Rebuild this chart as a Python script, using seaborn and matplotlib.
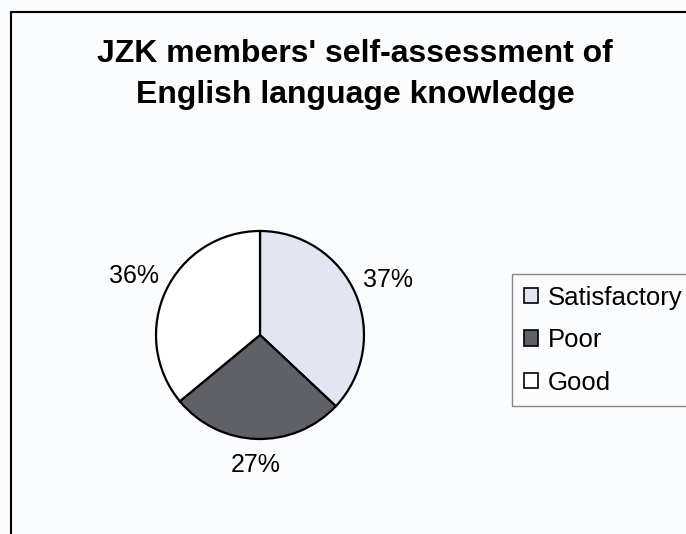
import matplotlib
matplotlib.use("Agg")
import numpy as np
import matplotlib.pyplot as plt
import seaborn as sns
from matplotlib.lines import Line2D
from matplotlib.patches import Patch

sns.set_theme(style="white")
plt.rcParams['font.family'] = ['Liberation Sans', 'DejaVu Sans']
plt.rcParams['text.color'] = 'black'

categories = ["Satisfactory", "Poor", "Good"]
shares = [37, 27, 36]
colors = ["#E3E6F1", "#5F6166", "#FFFFFF"]

W, H = 686, 534
fig = plt.figure(figsize=(W / 100, H / 100), dpi=100)
bg = "#FBFCFE"
fig.patch.set_facecolor(bg)

# pie axes: centre at (260, 335) px, radius 104 px
r = 104
cx, cy = 260, 335
ax = fig.add_axes([(cx - r) / W, 1 - (cy + r) / H, 2 * r / W, 2 * r / H])
ax.set_facecolor("none")
wedges, _ = ax.pie(
    shares, colors=colors, startangle=90, counterclock=False,
    wedgeprops=dict(edgecolor="black", linewidth=1.6),
)
ax.set_xlim(-1, 1)
ax.set_ylim(-1, 1)
ax.set_aspect("equal")

# percentage labels outside each wedge
for w, s in zip(wedges, shares):
    mid = np.deg2rad((w.theta1 + w.theta2) / 2)
    d = 1.25 + 0.1 * abs(np.cos(mid))
    ax.text(d * np.cos(mid), d * np.sin(mid), f"{s}%", ha="center", va="center",
            fontsize=18, color="black", clip_on=False)

fig.text(355 / W, 1 - 62 / H, "JZK members' self-assessment of",
         ha="center", va="baseline", fontsize=23, fontweight="bold")
fig.text(355 / W, 1 - 102.5 / H, "English language knowledge",
         ha="center", va="baseline", fontsize=23, fontweight="bold")

handles = [Patch(facecolor=c, edgecolor="black", linewidth=1.2) for c in colors]
leg = fig.legend(handles, categories, loc="upper left",
                 bbox_to_anchor=(512 / W, 1 - 274 / H),
                 fontsize=18.5, frameon=True, fancybox=False,
                 handlelength=0.58, handleheight=0.58, handletextpad=0.36,
                 labelspacing=0.72, borderpad=0.45, borderaxespad=0)
leg.get_frame().set_edgecolor("#6A6A6A")
leg.get_frame().set_linewidth(1.0)
leg.get_frame().set_facecolor(bg)

# outer chart border (left and top edges)
fig.add_artist(Line2D([11 / W, 11 / W], [0, 1 - 12 / H], color="black", lw=1.5))
fig.add_artist(Line2D([11 / W, 1], [1 - 12 / H, 1 - 12 / H], color="black", lw=1.5))

fig.savefig("out.png", dpi=100, facecolor=fig.get_facecolor())
